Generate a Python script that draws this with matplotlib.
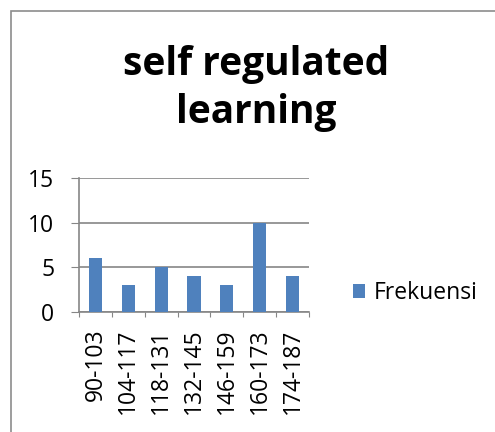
import matplotlib.pyplot as plt
from matplotlib.patches import Rectangle

categories = ['90-103', '104-117', '118-131', '132-145', '146-159', '160-173', '174-187']
frekuensi = [6, 3, 5, 4, 3, 10, 4]
y_ticks = [0, 5, 10, 15]

plt.rcParams['font.family'] = ['Open Sans', 'DejaVu Sans']

fig = plt.figure(figsize=(4.95, 4.32), dpi=100)

# chart frame like Excel
fig.patches.append(Rectangle((11 / 495, -0.1), 1.2, (432 - 11) / 432 + 0.1,
                             transform=fig.transFigure, fill=False,
                             edgecolor='#8c8c8c', linewidth=1.2))

ax = fig.add_axes([79 / 495, 1 - 312 / 432, (309 - 79) / 495, (312 - 178) / 432])
x = list(range(len(categories)))
ax.bar(x, frekuensi, width=0.4, color='#4F81BD', label='Frekuensi', zorder=3)
ax.set_xlim(-0.5, len(categories) - 0.5)
ax.set_ylim(0, 15)
ax.set_yticks(y_ticks)
ax.set_xticks([i - 0.5 for i in range(len(categories) + 1)], minor=False)
ax.set_xticklabels([])
ax.set_xticks(x, minor=True)
ax.set_xticklabels(categories, minor=True, rotation=90, fontsize=16.5)
ax.tick_params(axis='x', which='minor', length=0, pad=12)
ax.tick_params(axis='x', which='major', length=3.5, color='#868686', direction='out')
ax.tick_params(axis='y', length=5.8, color='#868686', labelsize=16.5, pad=12)
ax.grid(axis='y', color='#868686', linewidth=1.2, zorder=0)
for s in ['top', 'right']:
    ax.spines[s].set_visible(False)
ax.spines['left'].set_color('#868686')
ax.spines['bottom'].set_color('#868686')
ax.spines['left'].set_linewidth(1.2)
ax.spines['bottom'].set_linewidth(1.2)

fig.text(256 / 495, 1 - 89 / 432, 'self regulated\nlearning', ha='center', va='center',
         fontsize=28, fontweight='bold', linespacing=1.3)

ax.legend(loc='center left', bbox_to_anchor=(1.19, 0.14), frameon=False,
          fontsize=16.5, handlelength=0.55, handleheight=0.55, handletextpad=0.35,
          borderpad=0, borderaxespad=0)

fig.savefig('out.png', dpi=100)
